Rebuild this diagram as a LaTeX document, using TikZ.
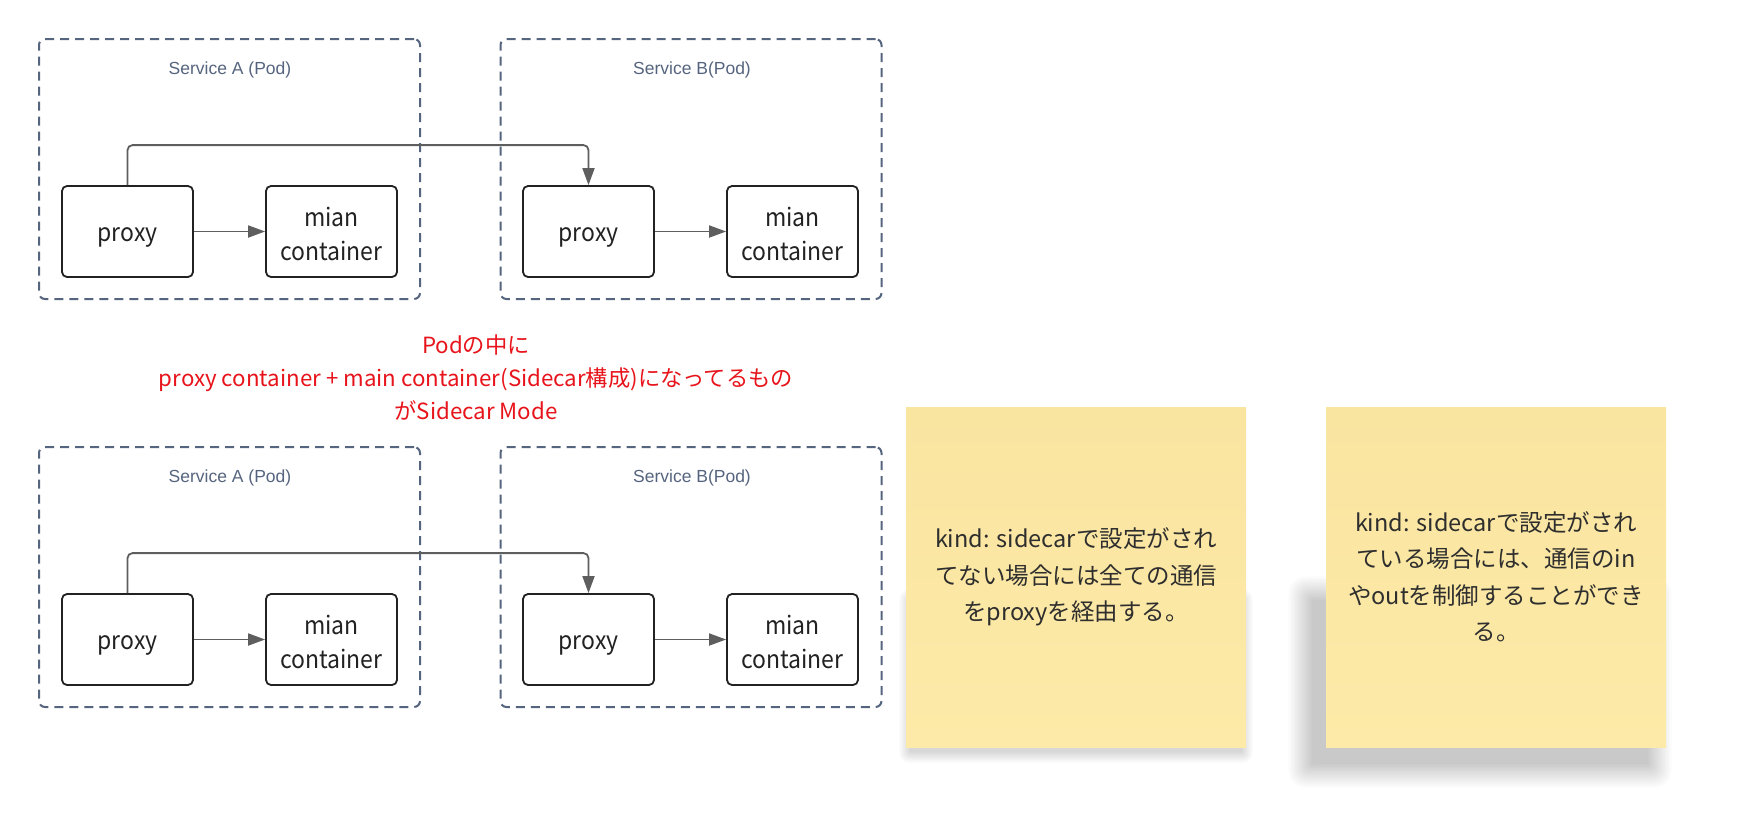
\documentclass[tikz,border=0pt]{standalone}
\usepackage{fontspec}
\setmainfont{Noto Sans CJK JP}
\newfontfamily\boxfont[FakeStretch=0.92]{Noto Sans CJK JP}
\newfontfamily\titlefont{Liberation Sans}
\usetikzlibrary{arrows.meta}
\definecolor{podline}{HTML}{56657F}
\definecolor{conn}{HTML}{5E5E5E}
\definecolor{boxline}{HTML}{222222}
\definecolor{notetop}{HTML}{F9E5A0}
\definecolor{notebot}{HTML}{FEEAA8}
\definecolor{notetext}{HTML}{2E2E2E}
\definecolor{redtext}{HTML}{E8141B}
\tikzset{
  pod/.style={draw=podline, line width=2pt, dash pattern=on 9pt off 6pt, rounded corners=6pt,
    minimum width=381pt, minimum height=260pt, inner sep=0pt},
  podtitle/.style={text=podline, font=\titlefont\fontsize{17.5}{20}\selectfont, inner sep=0pt},
  cbox/.style={draw=boxline, line width=1.8pt, rounded corners=5pt, minimum width=131pt,
    minimum height=91pt, inner sep=0pt},
  btext/.style={anchor=base, inner sep=0pt, text=boxline, font=\boxfont\fontsize{25}{33.3}\selectfont},
  conn/.style={draw=conn, line width=1.8pt, -{Triangle[length=17pt,width=12pt]}},
  note/.style={top color=notetop, bottom color=notebot, minimum width=340pt, minimum height=340pt,
    inner sep=0pt, align=center, text=notetext, font=\fontsize{23.5}{36.5}\selectfont},
}
\newcommand{\twoline}[2]{\setlength{\tabcolsep}{0pt}\begin{tabular}[t]{c}#1\\#2\end{tabular}}
\begin{document}
\begin{tikzpicture}[x=1pt,y=-1pt]
\useasboundingbox (0,0) rectangle (1741,828);
\fill[white] (0,0) rectangle (1741,828);

% top row
\node[pod] (podA1) at (229.5,169) {};
\node[pod] (podB1) at (691,169) {};
\node[podtitle] (tA1) at (230,70) {Service A (Pod)};
\node[podtitle] (tB1) at (692,70) {Service B(Pod)};
\node[cbox] (pA1) at (127.5,231.5) {};
\node[cbox] (mA1) at (331.5,231.5) {};
\node[cbox] (pB1) at (588.5,231.5) {};
\node[cbox] (mB1) at (792.5,231.5) {};
\node[btext] (pA1t) at ([yshift=-9.5pt]pA1.center) {proxy};
\node[btext] (mA1t) at ([yshift=4.8pt]mA1.center) {\twoline{mian}{container}};
\node[btext] (pB1t) at ([yshift=-9.5pt]pB1.center) {proxy};
\node[btext] (mB1t) at ([yshift=4.8pt]mB1.center) {\twoline{mian}{container}};
\draw[conn] (pA1) -- (mA1);
\draw[conn] (pB1) -- (mB1);
\draw[conn, rounded corners=5pt] (pA1.north) -- ++(0,-40) -| (pB1.north);

% bottom row
\node[pod] (podA2) at (229.5,577) {};
\node[pod] (podB2) at (691,577) {};
\node[podtitle] (tA2) at (230,478) {Service A (Pod)};
\node[podtitle] (tB2) at (692,478) {Service B(Pod)};
\node[cbox] (pA2) at (127.5,639.5) {};
\node[cbox] (mA2) at (331.5,639.5) {};
\node[cbox] (pB2) at (588.5,639.5) {};
\node[cbox] (mB2) at (792.5,639.5) {};
\node[btext] (pA2t) at ([yshift=-9.5pt]pA2.center) {proxy};
\node[btext] (mA2t) at ([yshift=4.8pt]mA2.center) {\twoline{mian}{container}};
\node[btext] (pB2t) at ([yshift=-9.5pt]pB2.center) {proxy};
\node[btext] (mB2t) at ([yshift=4.8pt]mB2.center) {\twoline{mian}{container}};
\draw[conn] (pA2) -- (mA2);
\draw[conn] (pB2) -- (mB2);
\draw[conn, rounded corners=5pt] (pA2.north) -- ++(0,-40) -| (pB2.north);

% red caption
\node[text=redtext, align=center, inner sep=0pt, font=\fontsize{22.3}{33}\selectfont] (cap) at (476,378)
  {Podの中に\\proxy container + main container(Sidecar構成)になってるもの\\がSidecar Mode};

% shadows of the sticky notes
\foreach \i in {0,...,9} {
  \fill[black, opacity=0.016, rounded corners={(10-\i)*1pt}]
    ({910-(9-\i)*1.2},{600-(9-\i)*1.2}) rectangle ({1242+(9-\i)*1.2},{752+(9-\i)*1.2});
}
\foreach \i in {0,...,17} {
  \fill[black, opacity=0.013, rounded corners={(18-\i)*1pt}]
    ({1312-(17-\i)*1.4},{600-(17-\i)*1.4}) rectangle ({1648+(17-\i)*1.4},{764+(17-\i)*1.4});
}

% sticky notes
\node[note] (n1) at (1076,577)
  {kind: sidecarで設定がされ\\てない場合には全ての通信\\をproxyを経由する。};
\node[note] (n2) at (1496,577)
  {kind: sidecarで設定がされ\\ている場合には、通信のin\\やoutを制御することができ\\る。};
\end{tikzpicture}
\end{document}
